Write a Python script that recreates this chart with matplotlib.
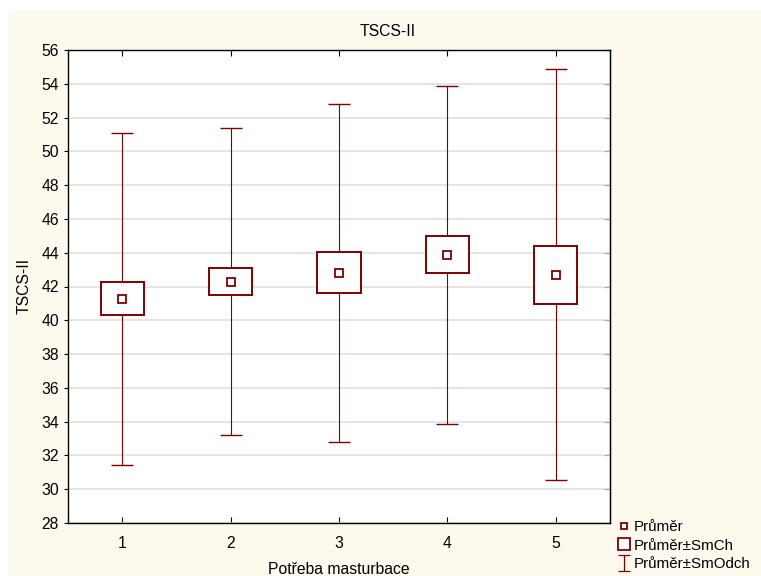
import matplotlib
matplotlib.use("Agg")
import matplotlib.pyplot as plt
from matplotlib.patches import Rectangle
from matplotlib.lines import Line2D
from matplotlib.path import Path
import numpy as np

plt.rcParams['font.family'] = ['Liberation Sans', 'DejaVu Sans']

# Group means, standard errors and standard deviations of TSCS-II
categories = ["1", "2", "3", "4", "5"]
means = [41.28, 42.29, 42.82, 43.89, 42.70]
se = [0.97, 0.78, 1.215, 1.105, 1.725]
sd = [9.83, 9.11, 10.00, 10.00, 12.18]
yticks = list(range(28, 57, 2))

dark_red = "#800000"
cream = "#FEF9EE"
fs = 11.3

W, H = 761, 576
fig = plt.figure(figsize=(W / 100, H / 100), dpi=100, facecolor="white")

# cream panel behind everything
fig.patches.append(Rectangle((8 / W, 0), 1 - 8 / W, 565 / H,
                             transform=fig.transFigure, facecolor=cream,
                             edgecolor="none", zorder=-10))

ax = fig.add_axes([68 / W, (H - 523) / H, (609.7 - 68) / W, (523 - 50) / H])
ax.set_facecolor("white")

x = np.arange(1, len(categories) + 1)
means_a = np.array(means)
se_a = np.array(se)
sd_a = np.array(sd)

# whiskers: mean ± SD
ax.errorbar(x, means_a, yerr=sd_a, fmt="none", ecolor=dark_red,
            elinewidth=0.8, capsize=7.8, capthick=1.0, zorder=2)
# boxes: mean ± SE
ax.bar(x, 2 * se_a, bottom=means_a - se_a, width=0.4, facecolor="white",
       edgecolor=dark_red, linewidth=1.4, zorder=3)
# mean markers
ax.plot(x, means_a, linestyle="none", marker="s", markersize=5.5,
        markerfacecolor="white", markeredgecolor=dark_red,
        markeredgewidth=1.3, zorder=4)

ax.set_xlim(0.5, 5.5)
ax.set_ylim(28, 56)
ax.set_xticks(x)
ax.set_xticklabels(categories)
ax.set_yticks(yticks)
ax.yaxis.grid(True, color="#dedede", linewidth=1.1)
ax.set_axisbelow(True)
ax.tick_params(axis="x", direction="in", length=4, labelsize=fs, pad=9,
               top=True, colors="black")
ax.tick_params(axis="y", direction="out", length=3, labelsize=fs,
               right=False, colors="black")
# inward ticks on the right side
ax2 = ax.secondary_yaxis("right")
ax2.set_yticks(yticks)
ax2.tick_params(direction="in", length=4, labelright=False)
for s in ax.spines.values():
    s.set_color("black")
    s.set_linewidth(1.0)

ax.set_xlabel("Potřeba masturbace", fontsize=fs, labelpad=8)
ax.set_ylabel("TSCS-II", fontsize=fs, labelpad=7)
fig.text(388 / W, (H - 31) / H, "TSCS-II", ha="center", va="center",
         fontsize=fs)

# legend
ibeam = Path([(-0.75, 1), (0.75, 1), (0, 1), (0, -1), (-0.75, -1), (0.75, -1)],
             [Path.MOVETO, Path.LINETO, Path.MOVETO, Path.LINETO,
              Path.MOVETO, Path.LINETO])
handles = [
    Line2D([], [], linestyle="none", marker="s", markersize=5,
           markerfacecolor="white", markeredgecolor=dark_red,
           markeredgewidth=1.3),
    Line2D([], [], linestyle="none", marker="s", markersize=9,
           markerfacecolor="white", markeredgecolor=dark_red,
           markeredgewidth=1.3),
    Line2D([], [], linestyle="none", marker=ibeam, markersize=11.5,
           markerfacecolor="none", markeredgecolor=dark_red,
           markeredgewidth=0.9),
]
labels = ["Průměr", "Průměr±SmCh", "Průměr±SmOdch"]
fig.legend(handles, labels, loc="upper left",
           bbox_to_anchor=(613 / W, (H - 517) / H), frameon=False,
           fontsize=10.9, handlelength=1.0, handletextpad=0.15,
           labelspacing=0.3, borderpad=0.2, borderaxespad=0)

fig.savefig("out.png", dpi=100, facecolor="white")
